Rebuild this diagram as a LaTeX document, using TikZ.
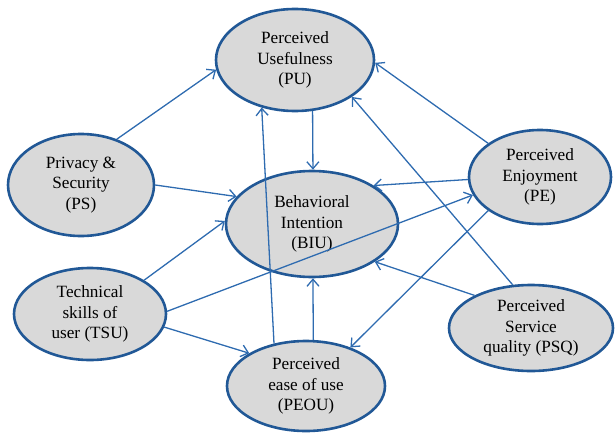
\documentclass[tikz,border=0pt]{standalone}
\usepackage{fontspec}
\setmainfont{Liberation Serif}
\usepackage{xcolor}
\usepackage{tikz}
\usetikzlibrary{arrows.meta, shapes.geometric}

\definecolor{ringblue}{RGB}{33,88,150}
\definecolor{lineblue}{RGB}{46,107,176}
\definecolor{constructgray}{RGB}{217,217,217}

\begin{document}
\begin{tikzpicture}[
  x=1pt, y=-1pt,
  construct/.style={ellipse, draw=ringblue, line width=2.6pt, fill=constructgray, inner sep=0pt, align=center, font=\fontsize{17.2}{20.5}\selectfont},
  arrow/.style={-{Straight Barb[length=7pt, width=12pt]}, draw=lineblue, line width=1.3pt}
]
\useasboundingbox (0,0) rectangle (615,436);

% Nodes
\node[construct, minimum width=158pt, minimum height=102pt] (pu) at (295,60) {Perceived\\Usefulness\\(PU)};
\node[construct, minimum width=146pt, minimum height=102pt] (ps) at (81,185) {Privacy \&\\Security\\(PS)};
\node[construct, minimum width=172pt, minimum height=106pt] (biu) at (312,224) {Behavioral\\Intention\\(BIU)};
\node[construct, minimum width=142pt, minimum height=94pt] (pe) at (540,177) {Perceived\\Enjoyment\\(PE)};
\node[construct, minimum width=152pt, minimum height=92pt] (tsu) at (90,314) {Technical\\skills of\\user (TSU)};
\node[construct, minimum width=158pt, minimum height=90pt] (peou) at (306,386) {Perceived\\ease of use\\(PEOU)};
\node[construct, minimum width=164pt, minimum height=86pt] (psq) at (531,328) {Perceived\\Service\\quality (PSQ)};

% Arrows
\draw[arrow] (ps.52) -- (pu.187);
\draw[arrow] (ps.0) -- (biu.160);
\draw[arrow] (tsu.32) -- (biu.178);
\draw[arrow] (tsu.2) -- (pe.195);
\draw[arrow] (tsu.350) -- (peou.150);

\draw[arrow] (pu.289) -- (biu.89);
\draw[arrow] (peou.81) -- (biu.271);
\draw[arrow] (peou.127) -- (pu.235);

\draw[arrow] (pe.147) -- (pu.358);
\draw[arrow] (pe.182) -- (biu.32);
\draw[arrow] (pe.213) -- (peou.41);

\draw[arrow] (psq.113) -- (pu.327);
\draw[arrow] (psq.150) -- (biu.329);

\end{tikzpicture}
\end{document}
